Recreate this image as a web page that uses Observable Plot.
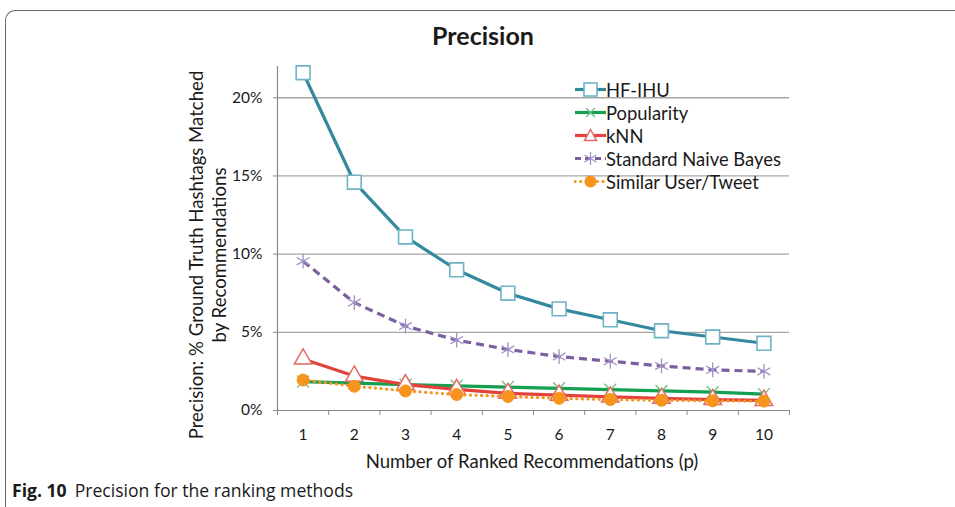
<!DOCTYPE html>
<html><head><meta charset="utf-8">
<script src="https://cdn.jsdelivr.net/npm/d3@7"></script>
<script src="https://cdn.jsdelivr.net/npm/@observablehq/plot@0.6"></script>
<style>
body{margin:0;background:#fff;}
#wrap{position:relative;width:955px;height:507px;overflow:hidden;font-family:Lato,"Open Sans",sans-serif;color:#1a1a1a;}
#frame{position:absolute;left:5px;top:10px;width:980px;height:520px;border-top:1.5px solid #6a6a6a;border-left:1.5px solid #6a6a6a;border-top-left-radius:10px;box-sizing:border-box;}
#chart{position:absolute;left:0;top:0;}
#title{position:absolute;left:0;width:966px;top:20px;text-align:center;font-weight:bold;font-size:25px;}
#ylab{position:absolute;left:208px;top:255px;transform:translate(-50%,-50%) rotate(-90deg);font-size:18.6px;line-height:23px;text-align:center;white-space:nowrap;}
#xlab{position:absolute;left:532px;top:450px;transform:translateX(-50%);font-size:18.6px;white-space:nowrap;}
#caption{position:absolute;left:12px;top:478px;font-family:"Open Sans",sans-serif;font-size:17.6px;white-space:nowrap;}
#caption b{font-weight:bold;margin-right:8px;}
#legend{position:absolute;left:574px;top:78px;font-size:18.4px;}
.li{display:flex;align-items:center;height:23px;}
.li svg{margin-right:0px;}
</style></head>
<body>
<div id="wrap">
<div id="frame"></div>
<div id="chart"></div>
<div id="title">Precision</div>
<div id="ylab">Precision: % Ground Truth Hashtags Matched<br>by Recommendations</div>
<div id="xlab">Number of Ranked Recommendations (p)</div>
<div id="legend"></div>
<div id="caption"><b>Fig. 10</b>Precision for the ranking methods</div>
</div>
<script>
// ---- data (percent) ----
const ranks = [1, 2, 3, 4, 5, 6, 7, 8, 9, 10];
const seriesNames = ["HF-IHU", "Popularity", "kNN", "Standard Naive Bayes", "Similar User/Tweet"];
const hfihu      = [21.6, 14.6, 11.1, 9.0, 7.5, 6.5, 5.8, 5.1, 4.7, 4.3];
const popularity = [1.85, 1.75, 1.65, 1.58, 1.5, 1.42, 1.33, 1.25, 1.17, 1.05];
const knn        = [3.3, 2.2, 1.65, 1.35, 1.1, 0.98, 0.87, 0.78, 0.7, 0.65];
const snb        = [9.55, 6.9, 5.4, 4.5, 3.9, 3.45, 3.15, 2.85, 2.6, 2.5];
const similar    = [1.95, 1.55, 1.25, 1.02, 0.9, 0.78, 0.7, 0.65, 0.62, 0.6];
const yTicks = [0, 5, 10, 15, 20];
const yMax = 22;

const styles = [
  {line:"#33899d", dash:null, cap:"round", symbol:"square", r:7.8, fill:"#fff", mstroke:"#6fb3c6", msw:1.6},
  {line:"#13a050", dash:null, cap:"round", symbol:"times", r:5.5, fill:"none", mstroke:"#6cc07e", msw:1.3},
  {line:"#e2443d", dash:null, cap:"round", symbol:"triangle", r:6.5, fill:"#fff", mstroke:"#e06a66", msw:1.5},
  {line:"#7b5fa0", dash:"8,5", cap:"butt", symbol:"asterisk", r:7, fill:"none", mstroke:"#a391c6", msw:1.3},
  {line:"#f7941e", dash:"0.1,5.5", cap:"round", symbol:"circle", r:6, fill:"#f7941e", mstroke:"#f7941e", msw:1}
];
const values = [hfihu, popularity, knn, snb, similar];
const tables = values.map((vals, i) => ranks.map((r, j) => ({rank: r, value: vals[j], series: seriesNames[i]})));
const boundaries = [ranks[0] - 0.5, ...ranks.map(r => r + 0.5)];

const seriesMarks = [];
tables.forEach((t, i) => {
  const s = styles[i];
  seriesMarks.push(Plot.line(t, {x:"rank", y:"value", stroke:s.line, strokeWidth:3.2,
    strokeDasharray:s.dash, strokeLinecap:s.cap, strokeLinejoin:"round"}));
  seriesMarks.push(Plot.dot(t, {x:"rank", y:"value", symbol:s.symbol, r:s.r, fill:s.fill,
    stroke:s.mstroke, strokeWidth:s.msw}));
});

const chart = Plot.plot({
  width: 955, height: 507,
  marginLeft: 277, marginRight: 166, marginTop: 66, marginBottom: 97,
  x: {domain: [boundaries[0], boundaries[boundaries.length - 1]]},
  y: {domain: [0, yMax]},
  style: {fontFamily: "Lato, sans-serif", fontSize: "15.5px", color: "#1a1a1a", background: "transparent"},
  marks: [
    Plot.ruleY(yTicks.filter(v => v > 0), {stroke:"#a6a6a6", strokeWidth:1.3}),
    Plot.axisY({ticks: yTicks, tickFormat: d => d + "%", tickSize: 4, tickPadding: 11, stroke:"#888", label: null}),
    Plot.ruleX([boundaries[0]], {y1: 0, y2: yMax, stroke:"#888", strokeWidth:1.2}),
    Plot.ruleY([0], {stroke:"#888", strokeWidth:1.2}),
    Plot.axisX({ticks: boundaries, tickFormat: () => "", tickSize: 5, stroke:"#888", label: null}),
    Plot.axisX({ticks: ranks, tickSize: 0, tickPadding: 18, label: null}),
    ...seriesMarks
  ]
});
document.getElementById("chart").appendChild(chart);

// legend
const symPath = {
  square: '<rect x="10" y="5" width="13" height="13" fill="#fff" stroke="COL" stroke-width="1.6"/>',
  times: '<path d="M12,7 L21,16 M21,7 L12,16" stroke="COL" stroke-width="1.3"/>',
  triangle: '<path d="M16.5,5.5 L22.5,16.5 L10.5,16.5 Z" fill="#fff" stroke="COL" stroke-width="1.5"/>',
  asterisk: '<path d="M16.5,5 V18 M10.5,8 L22.5,15 M22.5,8 L10.5,15" stroke="COL" stroke-width="1.3"/>',
  circle: '<circle cx="16.5" cy="11.5" r="6" fill="COL"/>'
};
const leg = document.getElementById("legend");
seriesNames.forEach((name, i) => {
  const s = styles[i];
  const dash = s.dash ? (i === 3 ? 'stroke-dasharray="6,4"' : 'stroke-dasharray="0.1,5.5" stroke-linecap="round"') : '';
  const div = document.createElement("div");
  div.className = "li";
  div.innerHTML = `<svg width="32" height="23"><line x1="1" x2="32" y1="11.5" y2="11.5" stroke="${s.line}" stroke-width="3.2" ${dash}/>${symPath[s.symbol].replace(/COL/g, s.mstroke)}</svg><span>${name}</span>`;
  leg.appendChild(div);
});
</script>
</body></html>
